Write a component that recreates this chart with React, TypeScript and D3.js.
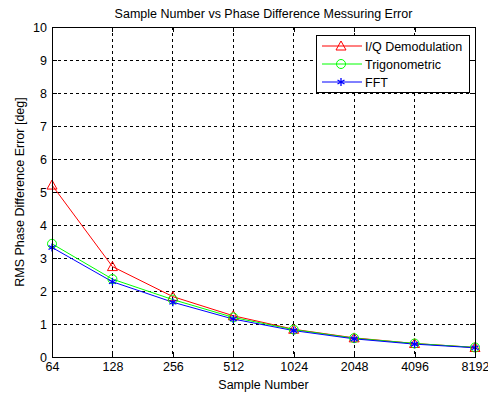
import { useEffect, useRef } from "react"
import * as d3 from "d3"

const samples = ["64", "128", "256", "512", "1024", "2048", "4096", "8192"]
const iqValues = [5.21, 2.74, 1.83, 1.25, 0.84, 0.58, 0.41, 0.29]
const trigValues = [3.43, 2.36, 1.74, 1.2, 0.83, 0.57, 0.41, 0.29]
const fftValues = [3.32, 2.28, 1.66, 1.15, 0.8, 0.55, 0.39, 0.28]
const yTicks = [0, 1, 2, 3, 4, 5, 6, 7, 8, 9, 10]

const series = [
  { name: "I/Q Demodulation", values: iqValues, color: "#ff0000", marker: "triangle" },
  { name: "Trigonometric", values: trigValues, color: "#00ff00", marker: "circle" },
  { name: "FFT", values: fftValues, color: "#0000ff", marker: "star" },
]

export default function App() {
  const ref = useRef<SVGSVGElement>(null)

  useEffect(() => {
    if (!ref.current) return
    d3.select(ref.current).selectAll("*").remove()

    const W = 488
    const H = 393
    const margin = { top: 27, right: 13, bottom: 36, left: 52 }
    const width = W - margin.left - margin.right
    const height = H - margin.top - margin.bottom
    const font = "Liberation Sans, Arial, sans-serif"

    const svg = d3.select(ref.current)
      .attr("width", W)
      .attr("height", H)

    svg.append("rect").attr("width", W).attr("height", H).attr("fill", "#fff")

    const g = svg.append("g").attr("transform", `translate(${margin.left},${margin.top})`)

    const x = d3.scalePoint<string>().domain(samples).range([0, width])
    const y = d3.scaleLinear().domain([0, 10]).range([height, 0])

    // grid
    g.selectAll(".vgrid")
      .data(samples.slice(1, -1))
      .enter()
      .append("line")
      .attr("x1", d => x(d)!)
      .attr("x2", d => x(d)!)
      .attr("y1", 0)
      .attr("y2", height)
      .attr("stroke", "#000")
      .attr("stroke-width", 1)
      .attr("stroke-dasharray", "3,3")
      .attr("shape-rendering", "crispEdges")
    g.selectAll(".hgrid")
      .data(yTicks.slice(1, -1))
      .enter()
      .append("line")
      .attr("x1", 0)
      .attr("x2", width)
      .attr("y1", d => y(d))
      .attr("y2", d => y(d))
      .attr("stroke", "#000")
      .attr("stroke-width", 1)
      .attr("stroke-dasharray", "3,3")
      .attr("shape-rendering", "crispEdges")

    // axes with inward ticks
    const xAxis = g.append("g")
      .attr("transform", `translate(0,${height})`)
      .call(d3.axisBottom(x).tickSizeInner(-5).tickSizeOuter(0).tickPadding(5))
    const yAxis = g.append("g")
      .call(d3.axisLeft(y).tickValues(yTicks).tickSizeInner(-5).tickSizeOuter(0).tickPadding(5))
    const xTop = g.append("g")
      .call(d3.axisTop(x).tickSizeInner(-5).tickSizeOuter(0).tickFormat(() => ""))
    const yRight = g.append("g")
      .attr("transform", `translate(${width},0)`)
      .call(d3.axisRight(y).tickValues(yTicks).tickSizeInner(-5).tickSizeOuter(0).tickFormat(() => ""))
    for (const a of [xAxis, yAxis, xTop, yRight]) {
      a.selectAll("path, line").attr("stroke", "#000").attr("shape-rendering", "crispEdges")
      a.selectAll("text").style("font-family", font).style("font-size", "12.5px").attr("fill", "#000")
    }

    // lines and markers
    const line = d3.line<number>()
      .x((_, i) => x(samples[i])!)
      .y(d => y(d))

    series.forEach(s => {
      g.append("path")
        .datum(s.values)
        .attr("fill", "none")
        .attr("stroke", s.color)
        .attr("stroke-width", 1)
        .attr("d", line)
    })

    const drawMarker = (sel: d3.Selection<SVGGElement, unknown, null, undefined>, kind: string, color: string, cx: number, cy: number) => {
      if (kind === "triangle") {
        sel.append("path")
          .attr("d", `M${cx},${cy - 5}L${cx + 5},${cy + 4}L${cx - 5},${cy + 4}Z`)
          .attr("fill", "none").attr("stroke", color).attr("stroke-width", 1)
      } else if (kind === "circle") {
        sel.append("circle")
          .attr("cx", cx).attr("cy", cy).attr("r", 4.5)
          .attr("fill", "none").attr("stroke", color).attr("stroke-width", 1)
      } else {
        const r = 4
        sel.append("path")
          .attr("d", `M${cx},${cy - r}L${cx},${cy + r}M${cx - r * 0.87},${cy - r / 2}L${cx + r * 0.87},${cy + r / 2}M${cx - r * 0.87},${cy + r / 2}L${cx + r * 0.87},${cy - r / 2}`)
          .attr("fill", "none").attr("stroke", color).attr("stroke-width", 1.3)
      }
    }

    series.forEach(s => {
      s.values.forEach((v, i) => {
        drawMarker(g, s.marker, s.color, x(samples[i])!, y(v))
      })
    })

    // box
    g.append("rect")
      .attr("width", width).attr("height", height)
      .attr("fill", "none").attr("stroke", "#000").attr("shape-rendering", "crispEdges")

    // legend
    const lg = svg.append("g").attr("transform", "translate(316,35)")
    lg.append("rect")
      .attr("width", 153).attr("height", 57)
      .attr("fill", "#fff").attr("stroke", "#000").attr("shape-rendering", "crispEdges")
    series.forEach((s, i) => {
      const ly = 11 + i * 18
      lg.append("line")
        .attr("x1", 6).attr("x2", 46).attr("y1", ly).attr("y2", ly)
        .attr("stroke", s.color).attr("stroke-width", 1)
      drawMarker(lg, s.marker, s.color, 25, ly)
      lg.append("text")
        .attr("x", 49).attr("y", ly + 4.5)
        .style("font-family", font).style("font-size", "12.5px")
        .text(s.name)
    })

    // titles
    svg.append("text")
      .attr("x", margin.left + width / 2).attr("y", 18)
      .attr("text-anchor", "middle")
      .style("font-family", font).style("font-size", "12.5px")
      .text("Sample Number vs Phase Difference Messuring Error")
    svg.append("text")
      .attr("x", margin.left + width / 2).attr("y", 389)
      .attr("text-anchor", "middle")
      .style("font-family", font).style("font-size", "12.5px")
      .text("Sample Number")
    svg.append("text")
      .attr("transform", `translate(24,${margin.top + height / 2}) rotate(-90)`)
      .attr("text-anchor", "middle")
      .style("font-family", font).style("font-size", "12.5px")
      .text("RMS Phase Difference Error [deg]")
  }, [])

  return (
    <div style={{ position: "absolute", left: 0, top: 0 }}>
      <svg ref={ref} width={488} height={393} style={{ display: "block" }}></svg>
    </div>
  )
}
